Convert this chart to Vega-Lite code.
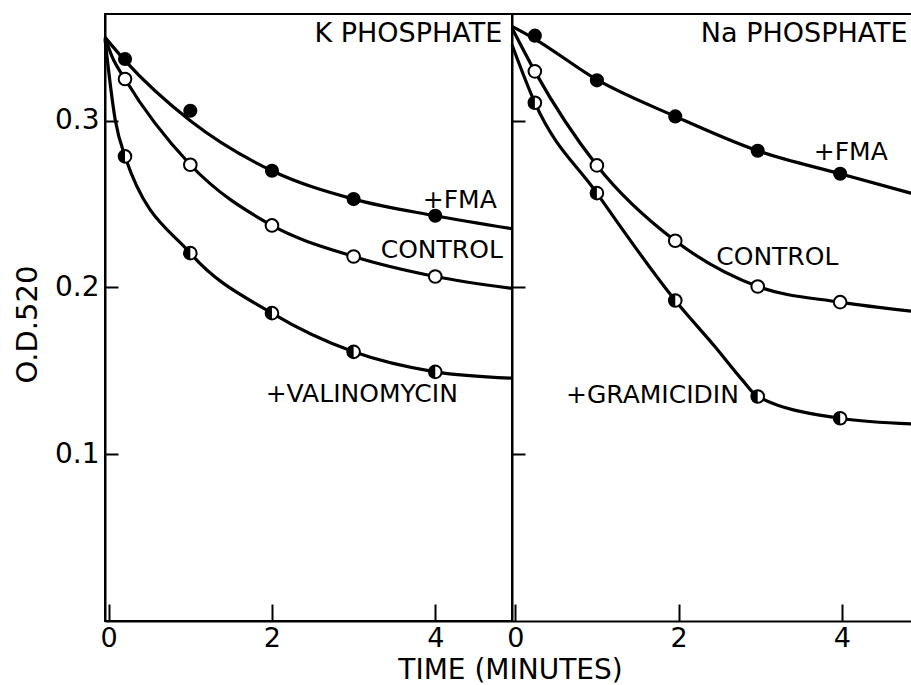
{
  "$schema": "https://vega.github.io/schema/vega-lite/v6.json",
  "padding": {"left": 12, "top": 13, "right": 0, "bottom": 0},
  "spacing": 0,
  "bounds": "flush",
  "background": "white",
  "config": {
    "font": "DejaVu Sans",
    "view": {"stroke": null},
    "axis": {
      "grid": false, "domainColor": "black", "domainWidth": 2, "tickColor": "black", "tickWidth": 2,
      "labelColor": "black", "labelFont": "DejaVu Sans", "labelFontSize": 28, "titleColor": "black",
      "titleFont": "DejaVu Sans", "titleFontWeight": "normal", "titleFontSize": 29, "labelFlush": false, "labelOverlap": false
    },
    "axisX": {"tickSize": -17, "labelPadding": 21, "labelFontSize": 27},
    "axisY": {"tickSize": -13, "labelPadding": 19}
  },
  "datasets": {
    "points": [
      {"panel": "K", "series": "+FMA", "time": 0.2, "od": 0.337},
      {"panel": "K", "series": "+FMA", "time": 1, "od": 0.306},
      {"panel": "K", "series": "+FMA", "time": 2, "od": 0.270},
      {"panel": "K", "series": "+FMA", "time": 3, "od": 0.253},
      {"panel": "K", "series": "+FMA", "time": 4, "od": 0.243},
      {"panel": "K", "series": "CONTROL", "time": 0.2, "od": 0.325},
      {"panel": "K", "series": "CONTROL", "time": 1, "od": 0.2736},
      {"panel": "K", "series": "CONTROL", "time": 2, "od": 0.2372},
      {"panel": "K", "series": "CONTROL", "time": 3, "od": 0.2186},
      {"panel": "K", "series": "CONTROL", "time": 4, "od": 0.2066},
      {"panel": "K", "series": "+VALINOMYCIN", "time": 0.2, "od": 0.2786},
      {"panel": "K", "series": "+VALINOMYCIN", "time": 1, "od": 0.2206},
      {"panel": "K", "series": "+VALINOMYCIN", "time": 2, "od": 0.1846},
      {"panel": "K", "series": "+VALINOMYCIN", "time": 3, "od": 0.1614},
      {"panel": "K", "series": "+VALINOMYCIN", "time": 4, "od": 0.1494},
      {"panel": "Na", "series": "+FMA", "time": 0.24, "od": 0.351},
      {"panel": "Na", "series": "+FMA", "time": 1, "od": 0.3242},
      {"panel": "Na", "series": "+FMA", "time": 1.96, "od": 0.3026},
      {"panel": "Na", "series": "+FMA", "time": 2.97, "od": 0.282},
      {"panel": "Na", "series": "+FMA", "time": 3.98, "od": 0.2682},
      {"panel": "Na", "series": "CONTROL", "time": 0.24, "od": 0.3296},
      {"panel": "Na", "series": "CONTROL", "time": 1, "od": 0.2732},
      {"panel": "Na", "series": "CONTROL", "time": 1.96, "od": 0.228},
      {"panel": "Na", "series": "CONTROL", "time": 2.97, "od": 0.2006},
      {"panel": "Na", "series": "CONTROL", "time": 3.98, "od": 0.1912},
      {"panel": "Na", "series": "+GRAMICIDIN", "time": 0.24, "od": 0.3108},
      {"panel": "Na", "series": "+GRAMICIDIN", "time": 1, "od": 0.2566},
      {"panel": "Na", "series": "+GRAMICIDIN", "time": 1.96, "od": 0.1922},
      {"panel": "Na", "series": "+GRAMICIDIN", "time": 2.97, "od": 0.1346},
      {"panel": "Na", "series": "+GRAMICIDIN", "time": 3.98, "od": 0.1216}
    ],
    "curves": [
      {"panel": "K", "series": "+FMA", "time": -0.045, "od": 0.350},
      {"panel": "K", "series": "+FMA", "time": 0.2, "od": 0.336},
      {"panel": "K", "series": "+FMA", "time": 1, "od": 0.300},
      {"panel": "K", "series": "+FMA", "time": 2, "od": 0.270},
      {"panel": "K", "series": "+FMA", "time": 3, "od": 0.253},
      {"panel": "K", "series": "+FMA", "time": 4, "od": 0.243},
      {"panel": "K", "series": "+FMA", "time": 4.94, "od": 0.2352},
      {"panel": "K", "series": "CONTROL", "time": -0.045, "od": 0.350},
      {"panel": "K", "series": "CONTROL", "time": 0.04, "od": 0.3386},
      {"panel": "K", "series": "CONTROL", "time": 0.2, "od": 0.325},
      {"panel": "K", "series": "CONTROL", "time": 1, "od": 0.2736},
      {"panel": "K", "series": "CONTROL", "time": 2, "od": 0.2372},
      {"panel": "K", "series": "CONTROL", "time": 3, "od": 0.2186},
      {"panel": "K", "series": "CONTROL", "time": 4, "od": 0.2066},
      {"panel": "K", "series": "CONTROL", "time": 4.94, "od": 0.1994},
      {"panel": "K", "series": "+VALINOMYCIN", "time": -0.045, "od": 0.349},
      {"panel": "K", "series": "+VALINOMYCIN", "time": 0.08, "od": 0.3006},
      {"panel": "K", "series": "+VALINOMYCIN", "time": 0.2, "od": 0.2786},
      {"panel": "K", "series": "+VALINOMYCIN", "time": 1, "od": 0.2206},
      {"panel": "K", "series": "+VALINOMYCIN", "time": 2, "od": 0.1846},
      {"panel": "K", "series": "+VALINOMYCIN", "time": 3, "od": 0.1614},
      {"panel": "K", "series": "+VALINOMYCIN", "time": 4, "od": 0.1494},
      {"panel": "K", "series": "+VALINOMYCIN", "time": 4.94, "od": 0.1456},
      {"panel": "Na", "series": "+FMA", "time": -0.04, "od": 0.3566},
      {"panel": "Na", "series": "+FMA", "time": 0.24, "od": 0.349},
      {"panel": "Na", "series": "+FMA", "time": 1, "od": 0.3246},
      {"panel": "Na", "series": "+FMA", "time": 1.96, "od": 0.3026},
      {"panel": "Na", "series": "+FMA", "time": 2.97, "od": 0.282},
      {"panel": "Na", "series": "+FMA", "time": 3.98, "od": 0.2682},
      {"panel": "Na", "series": "+FMA", "time": 4.86, "od": 0.2564},
      {"panel": "Na", "series": "CONTROL", "time": -0.04, "od": 0.3556},
      {"panel": "Na", "series": "CONTROL", "time": 0.24, "od": 0.3296},
      {"panel": "Na", "series": "CONTROL", "time": 1, "od": 0.2732},
      {"panel": "Na", "series": "CONTROL", "time": 1.96, "od": 0.228},
      {"panel": "Na", "series": "CONTROL", "time": 2.97, "od": 0.2006},
      {"panel": "Na", "series": "CONTROL", "time": 3.98, "od": 0.1912},
      {"panel": "Na", "series": "CONTROL", "time": 4.86, "od": 0.1857},
      {"panel": "Na", "series": "+GRAMICIDIN", "time": -0.04, "od": 0.3456},
      {"panel": "Na", "series": "+GRAMICIDIN", "time": 0.24, "od": 0.3108},
      {"panel": "Na", "series": "+GRAMICIDIN", "time": 1, "od": 0.2566},
      {"panel": "Na", "series": "+GRAMICIDIN", "time": 1.96, "od": 0.1922},
      {"panel": "Na", "series": "+GRAMICIDIN", "time": 2.45, "od": 0.1643},
      {"panel": "Na", "series": "+GRAMICIDIN", "time": 2.78, "od": 0.1446},
      {"panel": "Na", "series": "+GRAMICIDIN", "time": 2.97, "od": 0.1346},
      {"panel": "Na", "series": "+GRAMICIDIN", "time": 3.98, "od": 0.1216},
      {"panel": "Na", "series": "+GRAMICIDIN", "time": 4.86, "od": 0.1182}
    ],
    "labels": [
      {"panel": "K", "kind": "panel", "text": "K PHOSPHATE", "time": 3.67, "od": 0.3474},
      {"panel": "K", "kind": "curve", "text": "+FMA", "time": 4.30, "od": 0.2478},
      {"panel": "K", "kind": "curve", "text": "CONTROL", "time": 4.08, "od": 0.2178},
      {"panel": "K", "kind": "curve", "text": "+VALINOMYCIN", "time": 3.10, "od": 0.1314},
      {"panel": "Na", "kind": "panel", "text": "Na PHOSPHATE", "time": 3.54, "od": 0.3474},
      {"panel": "Na", "kind": "curve", "text": "+FMA", "time": 4.11, "od": 0.2766},
      {"panel": "Na", "kind": "curve", "text": "CONTROL", "time": 3.21, "od": 0.2136},
      {"panel": "Na", "kind": "curve", "text": "+GRAMICIDIN", "time": 1.68, "od": 0.1308}
    ]
  },
  "hconcat": [
    {
      "width": 407,
      "height": 607,
      "view": {"stroke": "black", "strokeWidth": 2},
      "layer": [
        {
          "data": {"name": "curves"},
          "transform": [{"filter": "datum.panel === 'K'"}],
          "mark": {"type": "line", "interpolate": "monotone", "color": "black", "strokeWidth": 3.2},
          "encoding": {
            "x": {"field": "time", "type": "quantitative", "scale": {"domain": [-0.045, 4.94], "nice": false, "zero": false},
              "axis": {"values": [0, 2, 4], "format": "d", "title": "TIME (MINUTES)", "titleFontSize": 28, "titleX": 405, "titleY": 57, "titleBaseline": "alphabetic", "titleAlign": "center"}},
            "y": {"field": "od", "type": "quantitative", "scale": {"domain": [0, 0.364], "nice": false, "zero": false},
              "axis": {"values": [0.1, 0.2, 0.3], "format": ".1f", "title": "O.D.520", "titleX": -69, "titleY": 310, "titleAngle": 270, "titleBaseline": "alphabetic", "titleAlign": "center"}},
            "detail": {"field": "series", "type": "nominal"}
          }
        },
        {
          "data": {"name": "points"},
          "transform": [{"filter": "datum.panel === 'K' && datum.series === '+FMA'"}],
          "mark": {"type": "point", "shape": "circle", "filled": true, "fill": "black", "size": 200, "opacity": 1},
          "encoding": {
            "x": {"field": "time", "type": "quantitative"},
            "y": {"field": "od", "type": "quantitative"}
          }
        },
        {
          "data": {"name": "points"},
          "transform": [{"filter": "datum.panel === 'K' && datum.series !== '+FMA'"}],
          "mark": {"type": "point", "shape": "circle", "filled": true, "fill": "white", "stroke": "black", "strokeWidth": 2, "size": 160, "opacity": 1},
          "encoding": {
            "x": {"field": "time", "type": "quantitative"},
            "y": {"field": "od", "type": "quantitative"}
          }
        },
        {
          "data": {"name": "points"},
          "transform": [{"filter": "datum.panel === 'K' && datum.series === '+VALINOMYCIN'"}],
          "mark": {"type": "point", "shape": "M0,-1A1,1,0,0,0,0,1Z", "filled": true, "fill": "black", "size": 160, "opacity": 1},
          "encoding": {
            "x": {"field": "time", "type": "quantitative"},
            "y": {"field": "od", "type": "quantitative"}
          }
        },
        {
          "data": {"name": "labels"},
          "transform": [{"filter": "datum.panel === 'K' && datum.kind === 'curve'"}],
          "mark": {"type": "text", "align": "center", "baseline": "alphabetic", "fontSize": 25, "font": "DejaVu Sans", "color": "black"},
          "encoding": {
            "x": {"field": "time", "type": "quantitative"},
            "y": {"field": "od", "type": "quantitative"},
            "text": {"field": "text", "type": "nominal"}
          }
        },
        {
          "data": {"name": "labels"},
          "transform": [{"filter": "datum.panel === 'K' && datum.kind === 'panel'"}],
          "mark": {"type": "text", "align": "center", "baseline": "alphabetic", "fontSize": 27, "font": "DejaVu Sans", "color": "black"},
          "encoding": {
            "x": {"field": "time", "type": "quantitative"},
            "y": {"field": "od", "type": "quantitative"},
            "text": {"field": "text", "type": "nominal"}
          }
        }
      ]
    },
    {
      "width": 400,
      "height": 607,
      "view": {"stroke": null},
      "layer": [
        {
          "data": {"name": "curves"},
          "transform": [{"filter": "datum.panel === 'Na'"}],
          "mark": {"type": "line", "interpolate": "monotone", "color": "black", "strokeWidth": 3.2},
          "encoding": {
            "x": {"field": "time", "type": "quantitative", "scale": {"domain": [-0.04, 4.86], "nice": false, "zero": false},
              "axis": {"values": [0, 2, 4], "format": "d", "title": null}},
            "y": {"field": "od", "type": "quantitative", "scale": {"domain": [0, 0.364], "nice": false, "zero": false},
              "axis": {"values": [0.1, 0.2, 0.3], "labels": false, "title": null}},
            "detail": {"field": "series", "type": "nominal"}
          }
        },
        {
          "data": {"values": [{}]},
          "mark": {"type": "rule", "color": "black", "strokeWidth": 2},
          "encoding": {"y": {"datum": 0.364, "type": "quantitative"}}
        },
        {
          "data": {"name": "points"},
          "transform": [{"filter": "datum.panel === 'Na' && datum.series === '+FMA'"}],
          "mark": {"type": "point", "shape": "circle", "filled": true, "fill": "black", "size": 200, "opacity": 1},
          "encoding": {
            "x": {"field": "time", "type": "quantitative"},
            "y": {"field": "od", "type": "quantitative"}
          }
        },
        {
          "data": {"name": "points"},
          "transform": [{"filter": "datum.panel === 'Na' && datum.series !== '+FMA'"}],
          "mark": {"type": "point", "shape": "circle", "filled": true, "fill": "white", "stroke": "black", "strokeWidth": 2, "size": 160, "opacity": 1},
          "encoding": {
            "x": {"field": "time", "type": "quantitative"},
            "y": {"field": "od", "type": "quantitative"}
          }
        },
        {
          "data": {"name": "points"},
          "transform": [{"filter": "datum.panel === 'Na' && datum.series === '+GRAMICIDIN'"}],
          "mark": {"type": "point", "shape": "M0,-1A1,1,0,0,0,0,1Z", "filled": true, "fill": "black", "size": 160, "opacity": 1},
          "encoding": {
            "x": {"field": "time", "type": "quantitative"},
            "y": {"field": "od", "type": "quantitative"}
          }
        },
        {
          "data": {"name": "labels"},
          "transform": [{"filter": "datum.panel === 'Na' && datum.kind === 'curve'"}],
          "mark": {"type": "text", "align": "center", "baseline": "alphabetic", "fontSize": 25, "font": "DejaVu Sans", "color": "black"},
          "encoding": {
            "x": {"field": "time", "type": "quantitative"},
            "y": {"field": "od", "type": "quantitative"},
            "text": {"field": "text", "type": "nominal"}
          }
        },
        {
          "data": {"name": "labels"},
          "transform": [{"filter": "datum.panel === 'Na' && datum.kind === 'panel'"}],
          "mark": {"type": "text", "align": "center", "baseline": "alphabetic", "fontSize": 27, "font": "DejaVu Sans", "color": "black"},
          "encoding": {
            "x": {"field": "time", "type": "quantitative"},
            "y": {"field": "od", "type": "quantitative"},
            "text": {"field": "text", "type": "nominal"}
          }
        }
      ]
    }
  ]
}
